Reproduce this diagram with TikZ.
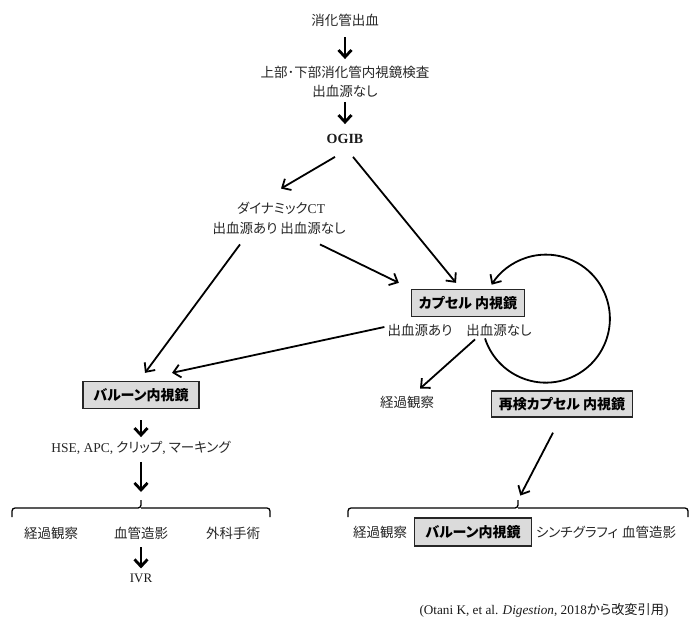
\documentclass[tikz,border=0pt]{standalone}
\usepackage{fontspec}
\setmainfont{Liberation Serif}
\newfontfamily\jp{Noto Sans CJK JP}[RawFeature={+palt}]
\usetikzlibrary{arrows.meta}

\begin{document}
\begin{tikzpicture}[x=1pt, y=-1pt,
 txt/.style={font=\jp\fontsize{13.5}{19}\selectfont, text=black!85, inner sep=1pt, align=center},
 lat/.style={font=\fontsize{14.5}{16}\selectfont, text=black!90, inner sep=1pt},
 box/.style={draw=black!85, line width=1.3pt, fill=black!14, font=\jp\bfseries\fontsize{14}{16}\selectfont, inner sep=0pt},
 down/.style={-{Straight Barb[length=7pt,width=13pt]}, line width=2.8pt},
 arr/.style={-{Straight Barb[length=7pt,width=13pt]}, line width=1.8pt},
 brk/.style={line width=1.3pt, rounded corners=3pt}]
\useasboundingbox (0,0) rectangle (700,628);
% top of the chart
\node[txt] (bleed) at (345,20) {消化管出血};
\node[txt] (endo) at (345,82) {上部･下部消化管内視鏡検査\\出血源なし};
\node[lat, font=\bfseries\fontsize{14}{16}\selectfont] (ogib) at (345,139) {OGIB};
\node[txt] (dct) at (281,208) {ダイナミック{\rmfamily CT}};
\node[txt] (dctyes) at (245,228) {出血源あり};
\node[txt] (dctno) at (313,228) {出血源なし};
% capsule side
\node[box, minimum width=113, minimum height=27] (caps) at (468,303) {カプセル 内視鏡};
\node[txt] (capyes) at (420,330) {出血源あり};
\node[txt] (capno) at (499,330) {出血源なし};
\node[txt] (watch) at (407,402) {経過観察};
\node[box, minimum width=141, minimum height=26] (recaps) at (562,404) {再検カプセル 内視鏡};
% balloon side
\node[box, minimum width=116, minimum height=27] (balloon) at (141,395) {バルーン内視鏡};
\node[txt] (hemo) at (141,448) {{\rmfamily HSE, APC,} クリップ{\rmfamily ,} マーキング};
\coordinate (ltip) at (141,500);
\coordinate (rtip) at (518,500);
% bottom rows
\node[txt] (watchL) at (51,533) {経過観察};
\node[txt] (angioL) at (141,533) {血管造影};
\node[txt] (surgery) at (233,533) {外科手術};
\node[lat, font=\fontsize{13}{15}\selectfont] (ivr) at (141,578) {IVR};
\node[txt] (watchR) at (380,532) {経過観察};
\node[box, minimum width=117, minimum height=28] (balloonR) at (473,532) {バルーン内視鏡};
\node[txt] (scinti) at (577,532) {シンチグラフィ};
\node[txt] (angioR) at (649,532) {血管造影};
\node[lat, font=\fontsize{13.2}{15}\selectfont] (cite) at (544,610) {(Otani K, et al. \textit{Digestion}, 2018{\jp から改変引用})};

\draw[down, shorten <=10pt, shorten >=6pt] (bleed) -- (endo);
\draw[down, shorten <=3pt, shorten >=9pt] (endo) -- (ogib);
\draw[arr] ([xshift=-10pt,yshift=-12pt]ogib.south) -- ([yshift=12pt]dct.north);
\draw[arr] ([xshift=8pt,yshift=-12pt]ogib.south) -- ([xshift=-12pt,yshift=6pt]caps.north);
\draw[arr] ([xshift=-5pt,yshift=-9pt]dctyes.south) -- ([xshift=4pt,yshift=8pt]balloon.north);
\draw[arr] ([xshift=7pt,yshift=-9pt]dctno.south) -- ([xshift=-12pt,yshift=6pt]caps.north west);
\draw[arr] ([xshift=-2pt,yshift=3pt]capyes.west) -- ([xshift=31pt,yshift=8pt]balloon.north);
\draw[arr] ([xshift=-24pt,yshift=-2pt]capno.south) -- ([xshift=13pt,yshift=6pt]watch.north);
\draw[arr] ([xshift=-14pt,yshift=-1pt]capno.south) arc[start angle=162, end angle=-148, radius=64];
\draw[arr, shorten >=5pt] ([xshift=-9pt,yshift=-15pt]recaps.south) -- (rtip);
\draw[down, shorten <=11pt, shorten >=3pt] (balloon) -- (hemo);
\draw[down, shorten <=6pt, shorten >=8pt] (hemo) -- (ltip);
\draw[down, shorten <=7pt, shorten >=4pt] (angioL) -- (ivr);
\foreach \a/\m/\b in {12/141/270, 348/518/688} {
 \draw[brk] (\a,517) |- (\m,508) -- (\m,500);
 \draw[brk] (\m,508) -| (\b,517);
}
\end{tikzpicture}
\end{document}
